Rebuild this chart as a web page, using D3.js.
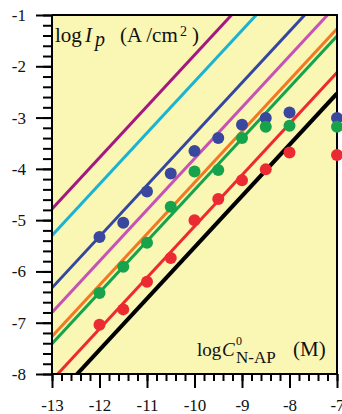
<!DOCTYPE html>
<html>
<head>
<meta charset="utf-8">
<script src="https://cdn.jsdelivr.net/npm/d3@7"></script>
<style>
  html, body { margin: 0; padding: 0; background: #ffffff; }
  svg { display: block; }
  text { font-family: "Liberation Serif", "Times New Roman", serif; fill: #111; }
</style>
</head>
<body>
<svg id="chart" width="342" height="414"></svg>
<script>
// ---- data ----
const xMajorTicks = [-13, -12, -11, -10, -9, -8, -7];
const yMajorTicks = [-8, -7, -6, -5, -4, -3, -2, -1];

// reference lines (slope 1): y at x = -13 and at x = -7
const lineNames  = ["purple", "cyan", "blue", "pink", "orange", "green", "red", "black"];
const lineColors = ["#a3197f", "#1cb3d3", "#34469f", "#c752b5", "#f27821", "#16a34a", "#ee2a2f", "#000000"];
const lineStartY = [-4.78, -5.30, -6.32, -6.80, -7.27, -7.41, -8.12, -8.53];
const lineEndY   = [ 1.22,  0.70, -0.32, -0.80, -1.27, -1.41, -2.12, -2.53];
const lineWidths = [3, 3, 3, 3, 3, 3, 3, 4];

// measured points
const pointX      = [-12, -11.5, -11, -10.5, -10, -9.5, -9, -8.5, -8, -7];
const bluePoints  = [-5.33, -5.05, -4.44, -4.09, -3.65, -3.40, -3.14, -3.01, -2.90, -3.01];
const greenPoints = [-6.42, -5.91, -5.44, -4.74, -4.05, -4.02, -3.40, -3.18, -3.16, -3.18];
const redPoints   = [-7.04, -6.74, -6.20, -5.74, -5.00, -4.59, -4.22, -4.01, -3.68, -3.73];
const pointSeries = [
  { name: "blue",  color: "#3a479f", values: bluePoints },
  { name: "green", color: "#17a34b", values: greenPoints },
  { name: "red",   color: "#ec2a31", values: redPoints }
];

// ---- layout ----
const L = 52, R = 337, T = 15, B = 374;
const svg = d3.select("#chart");
const x = d3.scaleLinear().domain([-13, -7]).range([L, R]);
const y = d3.scaleLinear().domain([-8, -1]).range([B, T]);

// background
svg.append("rect").attr("x", L).attr("y", T).attr("width", R - L).attr("height", B - T)
  .attr("fill", "#faf6b4");

svg.append("defs").append("clipPath").attr("id", "clip")
  .append("rect").attr("x", L).attr("y", T).attr("width", R - L).attr("height", B - T);

// lines
const lineGen = d3.line().x(d => x(d[0])).y(d => y(d[1]));
const gLines = svg.append("g").attr("clip-path", "url(#clip)");
lineNames.forEach((n, i) => {
  gLines.append("path")
    .datum([[-13, lineStartY[i]], [-7, lineEndY[i]]])
    .attr("d", lineGen)
    .attr("fill", "none")
    .attr("stroke", lineColors[i])
    .attr("stroke-width", lineWidths[i]);
});

// frame (top and right)
svg.append("path")
  .attr("d", `M${L},${T}H${R}V${B}`)
  .attr("fill", "none").attr("stroke", "#000").attr("stroke-width", 2);

// axes
const yMinor = d3.range(-8, -0.99, 0.2).map(v => +v.toFixed(1));
const xMinor = d3.range(-13, -6.99, 0.2).map(v => +v.toFixed(1));

const yMinorAxis = svg.append("g").attr("transform", `translate(${L},0)`)
  .call(d3.axisLeft(y).tickValues(yMinor).tickSize(9).tickFormat(""));
const yAxis = svg.append("g").attr("transform", `translate(${L},0)`)
  .call(d3.axisLeft(y).tickValues(yMajorTicks).tickSize(16).tickPadding(10).tickFormat(d => String(d)));

const xMinorAxis = svg.append("g").attr("transform", `translate(0,${B})`)
  .call(d3.axisBottom(x).tickValues(xMinor).tickSize(7).tickFormat(""));
const xAxis = svg.append("g").attr("transform", `translate(0,${B})`)
  .call(d3.axisBottom(x).tickValues(xMajorTicks).tickSize(14).tickPadding(11).tickFormat(d => String(d)));

[yMinorAxis, yAxis, xMinorAxis, xAxis].forEach(g => {
  g.selectAll("line").attr("stroke", "#000").attr("stroke-width", 2);
  g.select(".domain").attr("stroke", "#000").attr("stroke-width", 2);
  g.selectAll("text").attr("font-size", 17).attr("fill", "#111");
});
yMinorAxis.select(".domain").remove();
xMinorAxis.select(".domain").remove();
yAxis.select(".domain").attr("d", `M0,${T}V${B}`);
xAxis.select(".domain").attr("d", `M${L},0H${R}`);

// points
pointSeries.forEach(s => {
  svg.append("g").selectAll("circle")
    .data(s.values.map((v, i) => [pointX[i], v]))
    .join("circle")
    .attr("cx", d => x(d[0]))
    .attr("cy", d => y(d[1]))
    .attr("r", 6)
    .attr("fill", s.color);
});

// y axis title
const t1 = svg.append("text").attr("font-size", 21).attr("y", 42);
t1.append("tspan").attr("x", 55).text("log");
t1.append("tspan").attr("x", 85).attr("font-style", "italic").text("I");
t1.append("tspan").attr("x", 95).attr("y", 46).attr("font-style", "italic").attr("font-size", 20).text("p");
t1.append("tspan").attr("x", 120).attr("y", 42).text("(A /cm");
t1.append("tspan").attr("x", 180).attr("y", 36).attr("font-size", 14).text("2");
t1.append("tspan").attr("x", 192).attr("y", 42).text(")");

// x axis title
const t2 = svg.append("text").attr("font-size", 19).attr("y", 356);
t2.append("tspan").attr("x", 197).text("log");
t2.append("tspan").attr("x", 222).attr("font-style", "italic").text("C");
t2.append("tspan").attr("x", 236).attr("y", 345).attr("font-size", 12).text("0");
t2.append("tspan").attr("x", 236).attr("y", 363).attr("font-size", 17).text("N-AP");
t2.append("tspan").attr("x", 293).attr("y", 356).attr("font-size", 21).text("(M)");
</script>
</body>
</html>
